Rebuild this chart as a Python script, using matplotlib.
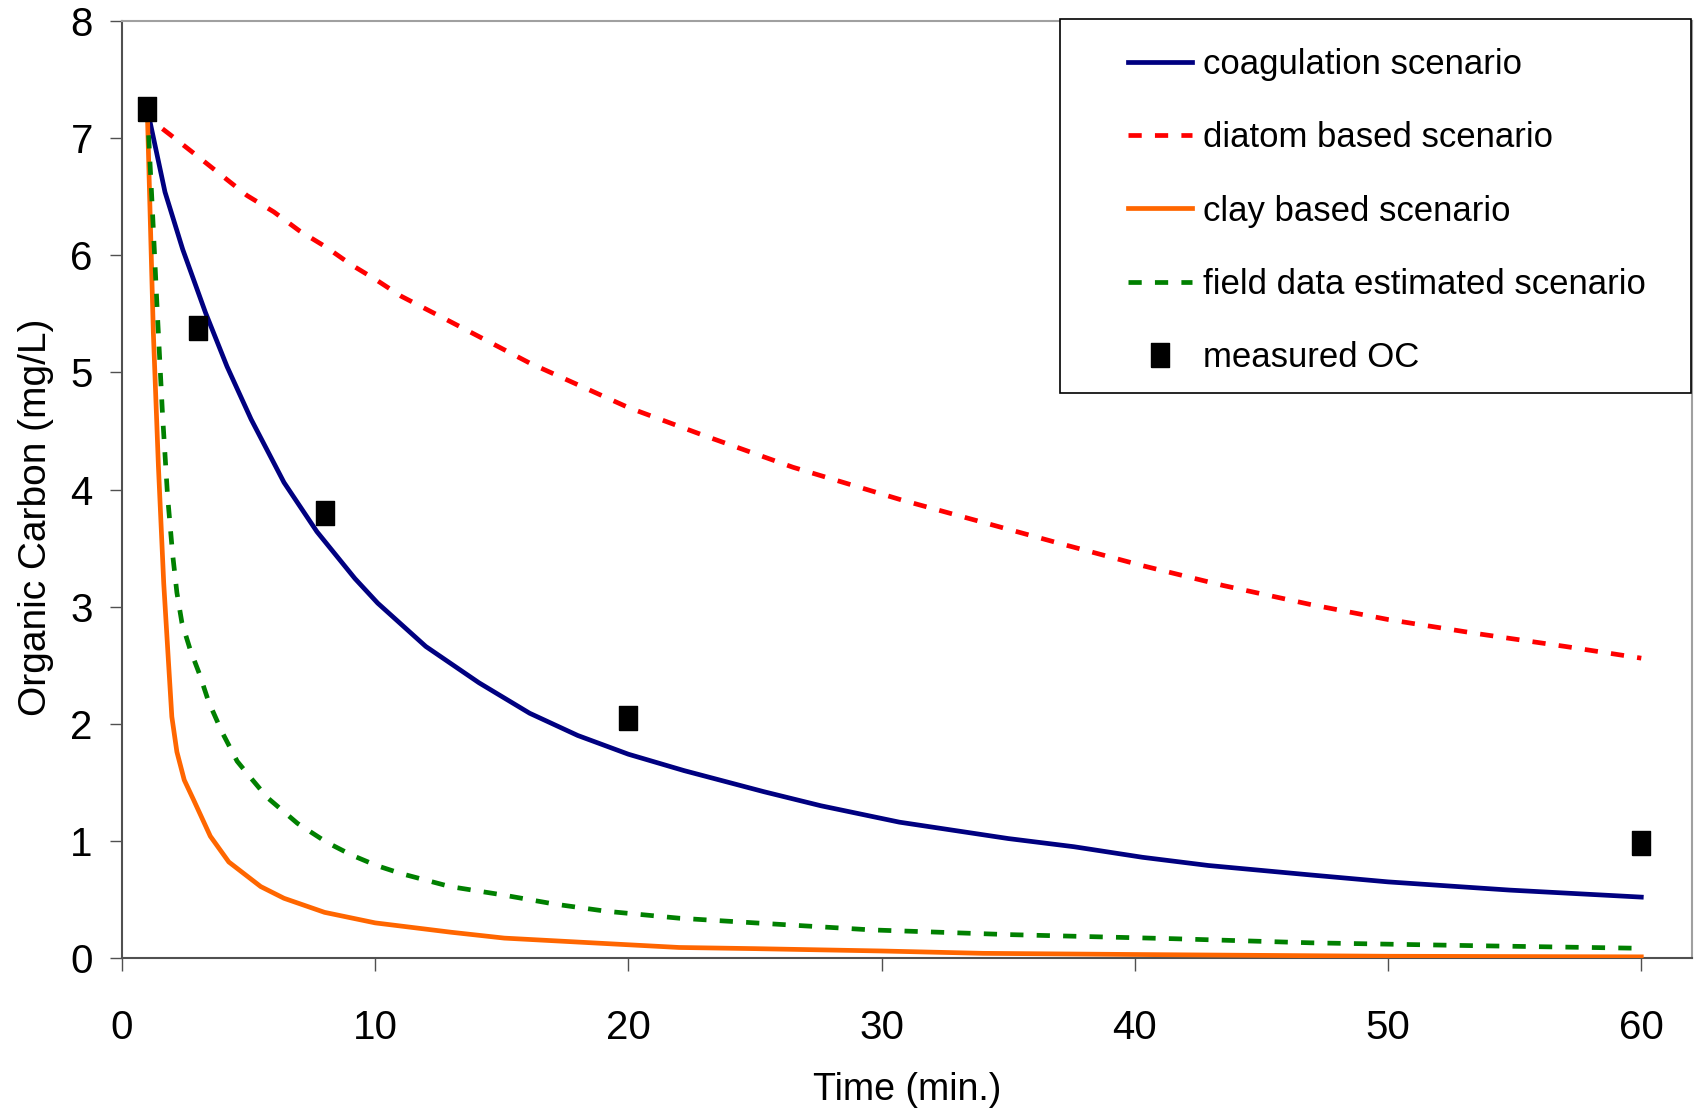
import matplotlib.pyplot as plt
from matplotlib.patches import Rectangle

# measured organic carbon
t_meas = [1, 3, 8, 20, 60]
oc_meas = [7.25, 5.38, 3.8, 2.05, 0.98]

# coagulation scenario
t_coag = [1, 1.7, 2.4, 3.3, 4.15, 5.1, 6.4, 7.7, 9.2, 10.1, 12, 14.1, 16.1, 18, 20,
          22.2, 25.35, 27.6, 30.7, 35, 37.6, 40.3, 42.9, 46.9, 50, 54.8, 60]
oc_coag = [7.25, 6.54, 6.05, 5.51, 5.05, 4.6, 4.06, 3.64, 3.24, 3.03, 2.66, 2.35, 2.09, 1.90, 1.74,
           1.60, 1.42, 1.30, 1.16, 1.02, 0.95, 0.86, 0.79, 0.71, 0.65, 0.58, 0.52]

# diatom based scenario
t_diat = [1.6, 1.9, 2.96, 3.95, 4.94, 6, 7, 8.06, 9.05, 10.04, 11.03, 13, 16.1, 20, 23,
          26.5, 30.8, 34, 37.2, 40.3, 43.5, 46.9, 50, 53.5, 57, 60]
oc_diat = [7.08, 7.03, 6.85, 6.68, 6.51, 6.37, 6.21, 6.07, 5.92, 5.79, 5.65, 5.43, 5.08, 4.70, 4.46,
           4.19, 3.91, 3.72, 3.53, 3.35, 3.18, 3.02, 2.89, 2.77, 2.66, 2.56]

# clay based scenario
t_clay = [1, 1.24, 1.44, 1.65, 1.84, 1.97, 2.17, 2.46, 2.83, 3.49, 4.22, 5.48, 6.4, 8.0, 10.0,
          13.0, 15.1, 19.4, 22, 25, 30, 34, 40, 50, 60]
oc_clay = [7.25, 5.34, 4.2, 3.2, 2.52, 2.06, 1.76, 1.52, 1.35, 1.04, 0.82, 0.61, 0.51, 0.39, 0.30,
           0.22, 0.17, 0.12, 0.09, 0.08, 0.06, 0.04, 0.03, 0.015, 0.01]

# field data estimated scenario
t_field = [1, 1.2, 1.4, 1.6, 1.8, 2.0, 2.17, 2.37, 2.7, 3.07, 3.42, 3.95, 4.55, 5.08, 5.74, 6.93,
           8.07, 9.06, 10.05, 11.04, 12.96, 15, 17.1, 19.1, 22, 25, 29.6, 35, 41.5, 46.9, 53.5, 60]
oc_field = [7.25, 6.4, 5.5, 4.65, 3.95, 3.45, 3.12, 2.86, 2.63, 2.42, 2.19, 1.93, 1.68, 1.54, 1.37, 1.15,
            0.99, 0.88, 0.79, 0.72, 0.61, 0.54, 0.46, 0.40, 0.34, 0.30, 0.24, 0.20, 0.165, 0.13, 0.105, 0.083]

FONT = ['Liberation Sans', 'DejaVu Sans']

fig = plt.figure(figsize=(16.96, 11.18), dpi=100)
ax = fig.add_axes([0.0719, 0.1431, 0.9257, 0.8381])

ax.plot(t_coag, oc_coag, color='#000080', lw=3.4, label='coagulation scenario', zorder=3)
ax.plot(t_diat, oc_diat, color='#ff0000', lw=3.4, dashes=(2.8, 2.8), label='diatom based scenario', zorder=3)
ax.plot(t_clay, oc_clay, color='#ff6600', lw=3.4, label='clay based scenario', zorder=3)
ax.plot(t_field, oc_field, color='#008000', lw=3.4, dashes=(2.8, 2.8), label='field data estimated scenario', zorder=3)
box = [(-0.4, -0.5), (0.4, -0.5), (0.4, 0.5), (-0.4, 0.5), (-0.4, -0.5)]
ax.plot(t_meas, oc_meas, ls='none', marker=box, ms=17, color='black', label='measured OC', zorder=5)

ax.set_xlim(0, 62)
ax.set_ylim(0, 8)
ax.set_xticks(range(0, 61, 10))
ax.set_yticks(range(0, 9))

for side in ['left', 'bottom']:
    ax.spines[side].set_color('#505050')
    ax.spines[side].set_linewidth(1.5)
for side in ['top', 'right']:
    ax.spines[side].set_color('#a0a0a0')
    ax.spines[side].set_linewidth(1.5)

ax.tick_params(axis='both', direction='out', length=9, width=1, color='#505050')
ax.tick_params(axis='x', pad=28)
ax.tick_params(axis='y', pad=12)
for lab in ax.get_xticklabels():
    lab.set_family(FONT)
    lab.set_fontsize(29)
for lab in ax.get_yticklabels():
    lab.set_family(FONT)
    lab.set_fontsize(29)

ax.set_xlabel('Time (min.)', family=FONT, fontsize=27)
ax.xaxis.set_label_coords(0.5, -0.122)
ax.set_ylabel('Organic Carbon (mg/L)', family=FONT, fontsize=28)
ax.yaxis.set_label_coords(-0.0435, 0.47)

# legend frame drawn separately to match the boxed layout
fig.add_artist(Rectangle((0.625, 0.6485), 0.372, 0.3345, transform=fig.transFigure,
                         facecolor='white', edgecolor='black', lw=1.2, zorder=4))
handles, labels = ax.get_legend_handles_labels()
leg = fig.legend(handles, labels, loc='upper left', bbox_to_anchor=(1128 / 1696, 1 - 48 / 1118),
                 frameon=False, borderpad=0, borderaxespad=0,
                 handlelength=1.85, handletextpad=0.3, labelspacing=1.16, numpoints=1,
                 prop={'family': FONT, 'size': 25})
leg.set_zorder(6)

fig.savefig('out.png', dpi=100)
